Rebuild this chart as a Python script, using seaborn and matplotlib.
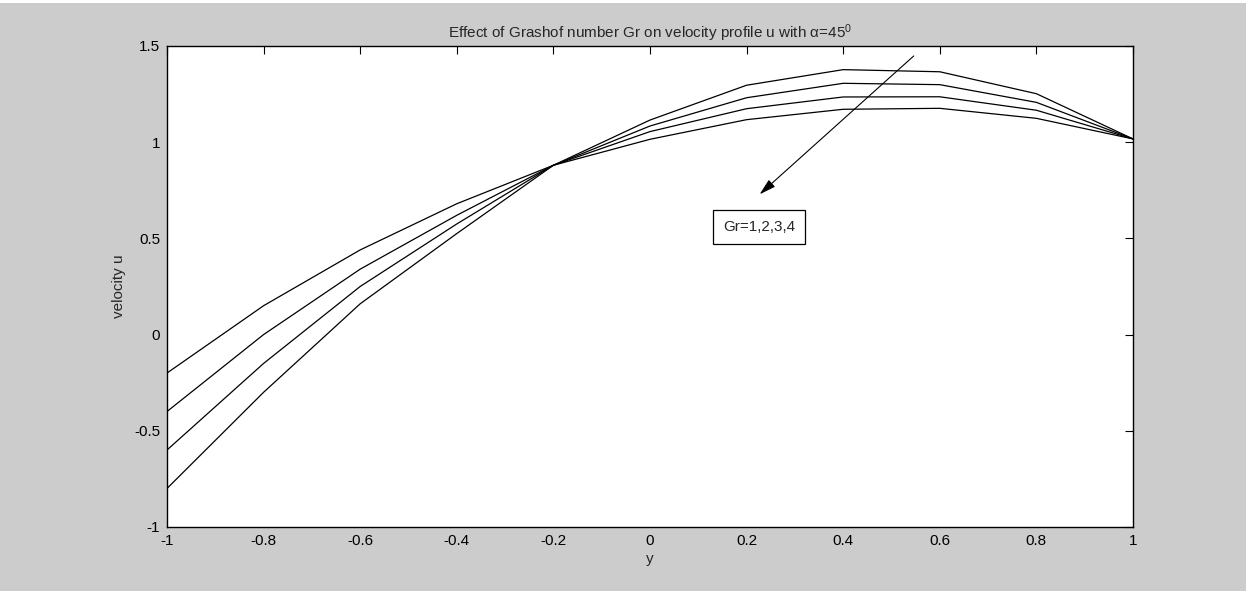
import matplotlib
matplotlib.use("Agg")
import matplotlib.pyplot as plt
import seaborn as sns
import pandas as pd
import numpy as np

# Data
y_pos = [-1.0, -0.8, -0.6, -0.4, -0.2, 0.0, 0.2, 0.4, 0.6, 0.8, 1.0]
u_gr1 = [-0.20, 0.15, 0.44, 0.68, 0.88, 1.015, 1.117, 1.171, 1.176, 1.124, 1.017]
u_gr2 = [-0.40, 0.00, 0.34, 0.62, 0.88, 1.055, 1.174, 1.235, 1.236, 1.166, 1.017]
u_gr3 = [-0.60, -0.15, 0.25, 0.575, 0.88, 1.084, 1.231, 1.306, 1.299, 1.207, 1.017]
u_gr4 = [-0.80, -0.30, 0.16, 0.525, 0.88, 1.115, 1.296, 1.377, 1.366, 1.252, 1.017]
gr_values = [1, 2, 3, 4]

x_ticks = [-1, -0.8, -0.6, -0.4, -0.2, 0, 0.2, 0.4, 0.6, 0.8, 1]
x_ticklabels = ["-1", "-0.8", "-0.6", "-0.4", "-0.2", "0", "0.2", "0.4", "0.6", "0.8", "1"]
y_ticks = [-1, -0.5, 0, 0.5, 1, 1.5]
y_ticklabels = ["-1", "-0.5", "0", "0.5", "1", "1.5"]

title = r"Effect of Grashof number Gr on velocity profile u with $\alpha$=45$^{\mathsf{0}}$"
xlabel = "y"
ylabel = "velocity u"
annot_text = "Gr=1,2,3,4"

frames = []
for gr, u in zip(gr_values, [u_gr1, u_gr2, u_gr3, u_gr4]):
    frames.append(pd.DataFrame({"y": y_pos, "u": u, "Gr": gr}))
df = pd.concat(frames, ignore_index=True)

sns.set_style("white")
plt.rcParams["font.family"] = ["Liberation Sans", "DejaVu Sans"]
plt.rcParams["mathtext.fontset"] = "custom"
plt.rcParams["mathtext.rm"] = "Liberation Sans"
plt.rcParams["mathtext.it"] = "Liberation Sans"
plt.rcParams["mathtext.sf"] = "Liberation Sans"

fs = 11

fig = plt.figure(figsize=(12.46, 5.91), dpi=100, facecolor="#cccccc")
# thin white strip along the top edge, as in the reference
fig.patches.append(plt.Rectangle((0, 1 - 3 / 591), 1, 3 / 591, transform=fig.transFigure,
                                 facecolor="white", edgecolor="none", zorder=0))
ax = fig.add_axes([0.134, 0.1083, 0.7753, 0.8139])
ax.set_facecolor("white")

sns.lineplot(data=df, x="y", y="u", hue="Gr", palette=["black"] * 4,
             linewidth=0.9, legend=False, ax=ax, sort=False)

ax.set_xlim(-1, 1)
ax.set_ylim(-1, 1.5)
ax.set_xticks(x_ticks)
ax.set_xticklabels(x_ticklabels)
ax.set_yticks(y_ticks)
ax.set_yticklabels(y_ticklabels)
ax.tick_params(direction="in", length=6, width=0.8, top=True, right=True,
               labelsize=fs, colors="black", pad=5)
for s in ax.spines.values():
    s.set_visible(True)
    s.set_color("black")
    s.set_linewidth(1.0)

ax.set_xlabel(xlabel, fontsize=fs, labelpad=3)
ax.set_ylabel(ylabel, fontsize=fs, labelpad=6)
ax.set_title(title, fontsize=fs, pad=6)

ax.annotate("", xy=(0.227, 0.729), xytext=(0.546, 1.448),
            arrowprops=dict(arrowstyle="-|>,head_length=1.0,head_width=0.28",
                            color="black", lw=0.8, shrinkA=0, shrinkB=0))
ax.text(0.2267, 0.559, annot_text, ha="center", va="center", fontsize=fs,
        bbox=dict(boxstyle="square,pad=0.65", facecolor="white",
                  edgecolor="black", linewidth=0.9))

fig.savefig("out.png", dpi=100, facecolor=fig.get_facecolor())
